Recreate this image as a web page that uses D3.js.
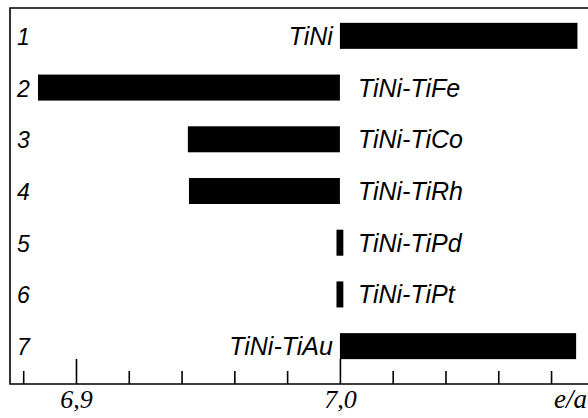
<!DOCTYPE html>
<html>
<head>
<meta charset="utf-8">
<style>
  body { margin: 0; background: #fff; }
  svg text { fill: #000; }
  .num { font-family: 'Liberation Sans', Arial, sans-serif; font-size: 23px; font-style: italic; }
  .sys { font-family: 'Liberation Sans', Arial, sans-serif; font-size: 25px; font-style: italic; }
  .tick-label { font-family: 'Liberation Serif', 'Times New Roman', serif; font-size: 26px; font-style: italic; text-anchor: middle; }
  .frame { stroke: #000; stroke-width: 1.6; fill: none; }
</style>
</head>
<body>
<div id="chart"></div>
<script src="https://cdn.jsdelivr.net/npm/d3@7"></script>
<script>
// row numbers and alloy systems
const rows = ["1", "2", "3", "4", "5", "6", "7"];
const systems = ["TiNi", "TiNi-TiFe", "TiNi-TiCo", "TiNi-TiRh", "TiNi-TiPd", "TiNi-TiPt", "TiNi-TiAu"];
// e/a range of each system
const eaStart = [7.000, 6.8856, 6.9424, 6.9428, 6.9987, 6.9987, 7.000];
const eaEnd   = [7.090, 7.000, 7.000, 7.000, 7.0013, 7.0013, 7.0895];
// label drawn left or right of the 7,0 line
const labelSide = ["left", "right", "right", "right", "right", "right", "left"];
// axis ticks
const minorTicks = [6.88, 6.92, 6.94, 6.96, 6.98, 7.02, 7.04, 7.06, 7.08];
const majorTicks = [6.9, 7.0];
const majorLabels = ["6,9", "7,0"];
const axisTitle = "e/a";

var width = 588, height = 418;
var mLeft = 10, mTop = 8, mBottom = 384;

var svg = d3.select("#chart").append("svg")
  .attr("width", width)
  .attr("height", height);

var x = d3.scaleLinear()
  .domain([6.875, 7.094])
  .range([mLeft, width]);

var y = d3.scaleBand()
  .domain(rows)
  .range([10, 372]);

var barH = 26;

// frame (open on the right)
svg.append("path")
  .attr("class", "frame")
  .attr("d", "M" + width + "," + mTop + "H" + mLeft + "V" + mBottom + "H" + width);

// axis ticks
var axis = svg.append("g").attr("transform", "translate(0," + mBottom + ")");
axis.call(d3.axisBottom(x).tickValues(minorTicks).tickSizeInner(-13).tickSizeOuter(0).tickFormat(""));
axis.select(".domain").remove();
axis.selectAll(".tick line").attr("stroke", "#000").attr("stroke-width", 1.6);

var major = svg.append("g").attr("transform", "translate(0," + mBottom + ")");
major.call(d3.axisBottom(x).tickValues(majorTicks).tickSizeInner(-25).tickSizeOuter(0)
  .tickFormat((d, i) => majorLabels[i]));
major.select(".domain").remove();
major.selectAll(".tick line").attr("stroke", "#000").attr("stroke-width", 1.6);
major.selectAll(".tick text")
  .attr("class", "tick-label")
  .attr("y", 24)
  .attr("dy", 0)
  .attr("fill", "#000");

svg.append("text")
  .attr("class", "tick-label")
  .attr("text-anchor", "end")
  .style("text-anchor", "end")
  .attr("x", width - 1)
  .attr("y", mBottom + 24)
  .style("font-size", "27px")
  .text(axisTitle);

// bars
var data = rows.map((r, i) => ({ row: r, name: systems[i], a: eaStart[i], b: eaEnd[i], side: labelSide[i] }));

svg.selectAll("rect.bar")
  .data(data)
  .enter().append("rect")
  .attr("class", "bar")
  .attr("x", d => x(d.a))
  .attr("width", d => x(d.b) - x(d.a))
  .attr("y", d => y(d.row) + y.bandwidth() / 2 - barH / 2)
  .attr("height", barH)
  .attr("fill", "#000");

// row numbers
svg.selectAll("text.num")
  .data(data)
  .enter().append("text")
  .attr("class", "num")
  .attr("x", 17)
  .attr("y", d => y(d.row) + y.bandwidth() / 2 + 9)
  .text(d => d.row);

// system labels
svg.selectAll("text.sys")
  .data(data)
  .enter().append("text")
  .attr("class", "sys")
  .attr("text-anchor", d => d.side == "left" ? "end" : "start")
  .attr("x", d => d.side == "left" ? x(7.0) - 7 : x(7.0) + 18)
  .attr("y", d => y(d.row) + y.bandwidth() / 2 + 9)
  .text(d => d.name);
</script>
</body>
</html>
